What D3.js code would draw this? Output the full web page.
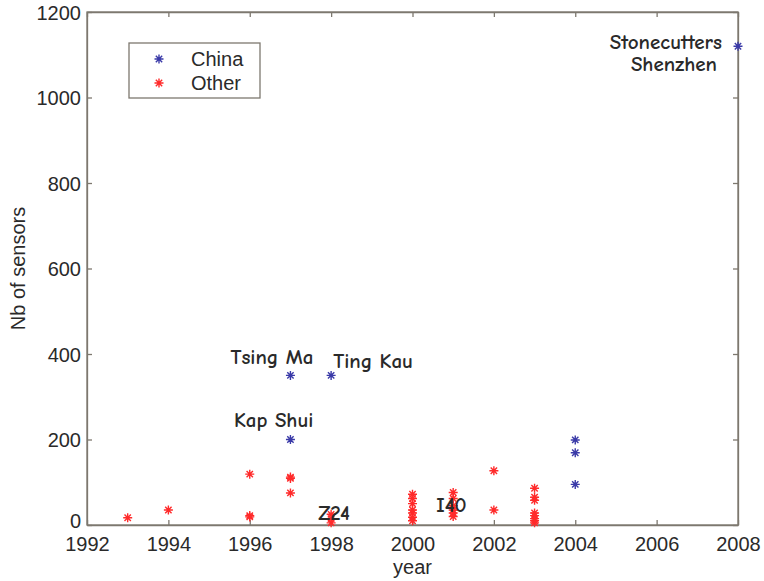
<!DOCTYPE html>
<html><head><meta charset="utf-8">
<script src="https://cdn.jsdelivr.net/npm/d3@7/dist/d3.min.js"></script>
<style>
body{margin:0;background:#fff;}
svg{display:block;}
</style></head>
<body>
<svg id="c" width="764" height="581"></svg>
<script>
// ---- data ----
const chinaYears  = [1997, 1997, 1998, 2004, 2004, 2004, 2008];
const chinaValues = [350, 200, 350, 199, 169, 95, 1120];

const otherYears  = [1993, 1994, 1996, 1996, 1996, 1997, 1997, 1997, 1998, 1998, 1998,
                     2000, 2000, 2000, 2000, 2000, 2000, 2000,
                     2001, 2001, 2001, 2001, 2001, 2001,
                     2002, 2002,
                     2003, 2003, 2003, 2003, 2003, 2003, 2003, 2003];
const otherValues = [17, 35, 119, 22, 19, 112, 109, 75, 25, 15, 5,
                     72, 62, 50, 35, 28, 18, 10,
                     76, 62, 45, 35, 28, 20,
                     127, 35,
                     86, 65, 58, 28, 22, 15, 10, 5];

const xTicks = [1992, 1994, 1996, 1998, 2000, 2002, 2004, 2006, 2008];
const yTicks = [0, 200, 400, 600, 800, 1000, 1200];

const annLabels = ["Stonecutters", "Shenzhen", "Tsing Ma", "Ting Kau", "Kap Shui", "Z24", "I40"];
const annYears  = [2008, 2008, 1997, 1998, 1997, 1998, 2001];
const annValues = [1120, 1120, 350, 350, 200, 0, 0];

const legendLabels = ["China", "Other"];

// ---- layout / style ----
const annOffsets = [[-16, 3, "end"], [-21, 25, "end"], [23, -11, "end"], [2, -7, "start"],
                    [23, -13, "end"], [-13, -5, "start"], [-17, -13, "start"]];
const colors = {China: "#3a3aa8", Other: "#ff2a2a"};
const axisColor = "#7d786f";
const textColor = "#2a2a2a";

const svg = d3.select("#c");
const x = d3.scaleLinear().domain([1992, 2008]).range([87, 738]);
const y = d3.scaleLinear().domain([0, 1200]).range([525, 12]);

// frame
svg.append("rect").attr("x", x(1992)).attr("y", y(1200))
  .attr("width", x(2008) - x(1992)).attr("height", y(0) - y(1200))
  .attr("fill", "none").attr("stroke", axisColor).attr("stroke-width", 1.3);

const font = "'Liberation Sans', Arial, Helvetica, sans-serif";

// bottom axis
const gx = svg.append("g").attr("transform", `translate(0,${y(0)})`)
  .call(d3.axisBottom(x).tickValues(xTicks).tickFormat(d3.format("d")).tickSizeInner(-5).tickSizeOuter(0).tickPadding(12));
// left axis
const gy = svg.append("g").attr("transform", `translate(${x(1992)},0)`)
  .call(d3.axisLeft(y).tickValues(yTicks).tickFormat(d3.format("d")).tickSizeInner(-5).tickSizeOuter(0).tickPadding(6));
// top / right ticks
svg.append("g").attr("transform", `translate(0,${y(1200)})`)
  .call(d3.axisTop(x).tickValues(xTicks).tickFormat("").tickSizeInner(-5).tickSizeOuter(0));
svg.append("g").attr("transform", `translate(${x(2008)},0)`)
  .call(d3.axisRight(y).tickValues(yTicks).tickFormat("").tickSizeInner(-5).tickSizeOuter(0));

svg.selectAll(".domain").attr("stroke", axisColor).attr("stroke-width", 1.3);
svg.selectAll(".tick line").attr("stroke", axisColor).attr("stroke-width", 1.3);
svg.selectAll(".tick text").attr("fill", textColor).style("font-family", font).style("font-size", "20px");
gx.selectAll(".tick text").attr("dy", "0.71em");
gy.selectAll(".tick text").attr("dy", "0.35em");
gy.selectAll(".tick").filter(d => d === 0).select("text").attr("dy", "0.1em");

// axis labels
svg.append("text").attr("x", (x(1992) + x(2008)) / 2).attr("y", 574)
  .attr("text-anchor", "middle").attr("fill", textColor)
  .style("font-family", font).style("font-size", "20px").text("year");
svg.append("text").attr("transform", `translate(25,${(y(0) + y(1200)) / 2}) rotate(-90)`)
  .attr("text-anchor", "middle").attr("fill", textColor)
  .style("font-family", font).style("font-size", "20px").text("Nb of sensors");

// asterisk marker
function star(cx, cy, r) {
  const d = r * Math.SQRT1_2;
  return `M${cx - r},${cy}L${cx + r},${cy}M${cx},${cy - r}L${cx},${cy + r}` +
         `M${cx - d},${cy - d}L${cx + d},${cy + d}M${cx - d},${cy + d}L${cx + d},${cy - d}`;
}

const otherPts = otherYears.map((yr, i) => ({yr, v: otherValues[i]}));
const chinaPts = chinaYears.map((yr, i) => ({yr, v: chinaValues[i]}));

svg.append("g").selectAll("path").data(otherPts).join("path")
  .attr("d", d => star(x(d.yr), y(d.v), 4.5))
  .attr("stroke", colors.Other).attr("stroke-width", 1.4).attr("fill", "none");
svg.append("g").selectAll("path").data(chinaPts).join("path")
  .attr("d", d => star(x(d.yr), y(d.v), 4.5))
  .attr("stroke", colors.China).attr("stroke-width", 1.4).attr("fill", "none");

// annotations
const annFont = "'Comic Sans MS', 'Comic Neue', 'DejaVu Sans', sans-serif";
svg.append("g").selectAll("text").data(annLabels).join("text")
  .attr("x", (d, i) => x(annYears[i]) + annOffsets[i][0])
  .attr("y", (d, i) => y(annValues[i]) + annOffsets[i][1])
  .attr("text-anchor", (d, i) => annOffsets[i][2])
  .attr("fill", textColor)
  .style("font-family", annFont).style("font-size", "21px").style("font-weight", "bold")
  .text(d => d);

// legend
const lg = svg.append("g");
lg.append("rect").attr("x", 129).attr("y", 43).attr("width", 131).attr("height", 55)
  .attr("fill", "#fff").attr("stroke", axisColor).attr("stroke-width", 1.3);
legendLabels.forEach((lab, i) => {
  const ly = 59 + i * 24;
  lg.append("path").attr("d", star(159, ly, 4.5))
    .attr("stroke", colors[lab]).attr("stroke-width", 1.4).attr("fill", "none");
  lg.append("text").attr("x", 191).attr("y", ly + 7).attr("fill", textColor)
    .style("font-family", font).style("font-size", "20px").text(lab);
});
</script>
</body></html>
